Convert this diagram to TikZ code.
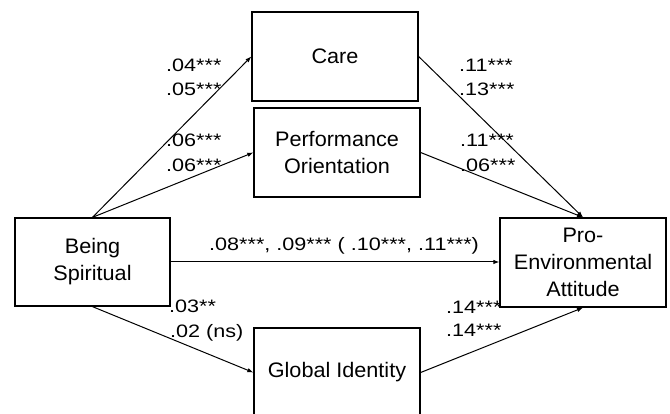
\documentclass[tikz,border=0pt]{standalone}
\usepackage{fontspec}
\setmainfont{Liberation Sans}
\newfontfamily\boxfont[FakeStretch=1.03]{Liberation Sans}
\newfontfamily\labfont[FakeStretch=1.2]{Liberation Sans}
\usetikzlibrary{arrows.meta}
\tikzset{
  box/.style={draw, line width=1.3pt, minimum width=166pt, minimum height=89pt, inner sep=0pt, align=center, font=\boxfont\fontsize{21}{27}\selectfont},
  lab/.style={anchor=base west, inner sep=0pt, font=\labfont\fontsize{18}{20}\selectfont},
  arr/.style={line width=1pt, -{Latex[length=6pt,width=4.5pt]}}
}
\begin{document}
\begin{tikzpicture}[x=1pt,y=-1pt]
\clip (0,0) rectangle (670,414);
\fill[white] (0,0) rectangle (670,414);
\node[box] (care) at (335,56.5) {Care};
\node[box] (perf) at (337,152.5) {Performance\\Orientation};
\node[box, minimum width=155pt, minimum height=88pt] (bs) at (92.5,262) {Being\\Spiritual};
\node[box] (pro) at (583,262.5) {Pro-\\Environmental\\Attitude};
\node[box] (gi) at (337,372.5) {Global Identity};
\draw[arr] (bs.north) -- (care.west);
\draw[arr] (bs.north) -- (perf.west);
\draw[arr] (care.east) -- (pro.north);
\draw[arr] (perf.east) -- (pro.north);
\draw[arr] (bs.east) -- (bs.east -| pro.west);
\draw[arr] (bs.south) -- (gi.west);
\draw[arr] (gi.east) -- (pro.south);
\node[lab] (l1) at (166,72) {.04***};
\node[lab] (l2) at (166,96) {.05***};
\node[lab] (l3) at (166,147) {.06***};
\node[lab] (l4) at (166,172) {.06***};
\node[lab] (r1) at (459,72) {.11***};
\node[lab] (r2) at (459,96) {.13***};
\node[lab] (r3) at (460,147) {.11***};
\node[lab] (r4) at (460,172) {.06***};
\node[lab] (d) at (209,250.5) {.08***, .09*** ( .10***, .11***)};
\node[lab] (b1) at (169,312.5) {.03**};
\node[lab] (b2) at (170,337.5) {.02 (ns)};
\node[lab] (g1) at (446,314) {.14***};
\node[lab] (g2) at (446,337) {.14***};
\end{tikzpicture}
\end{document}
